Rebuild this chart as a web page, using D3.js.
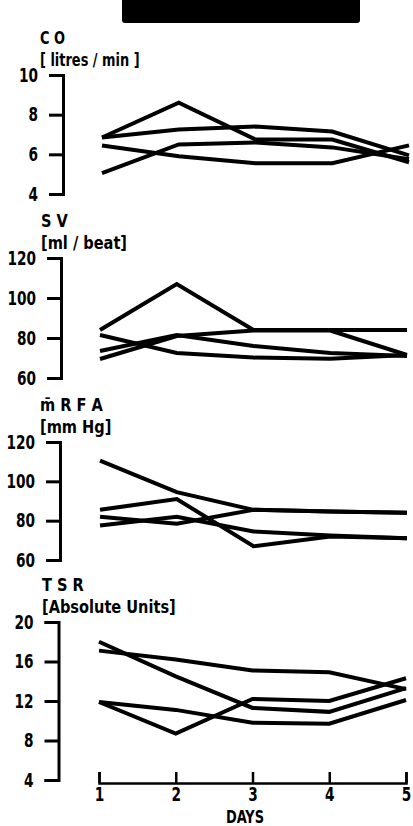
<!DOCTYPE html>
<html>
  <head>
    <meta charset="utf-8" />
    <title>CO, SV, mRFA, TSR over days</title>
    <script src="https://d3js.org/d3.v7.min.js"></script>
    <style>
        body {
            margin: 0;
            background: #fff;
        }
        text {
            font-family: "DejaVu Sans Condensed", "DejaVu Sans", sans-serif;
            font-stretch: condensed;
            font-weight: bold;
            fill: #000;
        }
    </style>
  </head>
  <body>
    <svg id="chart"></svg>

    <script>
        // values, one row per subject
        var days = [1, 2, 3, 4, 5];

        var coTicks = [4, 6, 8, 10];
        var coSeries = [
            [6.85, 8.6, 6.75, 6.75, 5.6],
            [6.85, 7.25, 7.4, 7.15, 5.95],
            [6.45, 5.9, 5.55, 5.55, 6.45],
            [5.05, 6.5, 6.6, 6.35, 5.75]
        ];

        var svTicks = [60, 80, 100, 120];
        var svSeries = [
            [84, 107, 84, 84, 84],
            [69.5, 81, 83.7, 83.7, 71.5],
            [81.5, 72.5, 70.2, 69.6, 71.5],
            [73.5, 81.5, 76, 72.5, 71]
        ];

        var rfaTicks = [60, 80, 100, 120];
        var rfaSeries = [
            [110.5, 94.5, 85.5, 84.7, 84],
            [85.5, 91, 67, 72, 71],
            [82, 78.5, 85.5, 84.7, 84],
            [77.5, 82, 74.5, 72.5, 71]
        ];

        var tsrTicks = [4, 8, 12, 16, 20];
        var tsrSeries = [
            [18, 14.5, 11.3, 10.9, 13.3],
            [17.1, 16.2, 15.1, 14.9, 13.2],
            [11.9, 8.7, 12.2, 12.0, 14.3],
            [11.9, 11.1, 9.8, 9.7, 12.1]
        ];

        var width = 413;
        var height = 826;
        var squeeze = 0.8; // the printed lettering is narrower than any installed font

        var svg = d3.select("#chart")
            .attr("width", width)
            .attr("height", height);

        // blacked-out heading
        svg.append("rect")
            .attr("x", 122)
            .attr("y", -4)
            .attr("width", 238)
            .attr("height", 27)
            .attr("rx", 3)
            .attr("fill", "#000");

        var x = d3.scaleLinear()
            .domain([1, 5])
            .range([99, 406]);

        var panels = [
            {name: "C O", unit: "[ litres / min ]", ticks: coTicks, series: coSeries,
             top: 75, bottom: 194, axisX: 63, dx: 3, titleX: 40, sq: 0.8},
            {name: "S V", unit: "[ml / beat]", ticks: svTicks, series: svSeries,
             top: 258, bottom: 378, axisX: 61, dx: 1, titleX: 41, sq: 0.9},
            {name: "m\u0304 R F A", unit: "[mm Hg]", ticks: rfaTicks, series: rfaSeries,
             top: 442, bottom: 560, axisX: 60, dx: 1, titleX: 40, sq: 0.9},
            {name: "T S R", unit: "[Absolute Units]", ticks: tsrTicks, series: tsrSeries,
             top: 622, bottom: 780, axisX: 58.5, dx: 0, titleX: 42, sq: 0.9}
        ];

        function label(sel, tx, ty, size, str, sq) {
            return sel.append("text")
                .attr("transform", "translate(" + tx + "," + ty + ") scale(" + (sq || squeeze) + ",1)")
                .attr("font-size", size)
                .text(str);
        }

        panels.forEach(function(p) {
            var y = d3.scaleLinear()
                .domain(d3.extent(p.ticks))
                .range([p.bottom, p.top]);

            var g = svg.append("g");

            // titles above the axis
            label(g, p.titleX, p.top - 31, 18, p.name, p.sq);
            label(g, p.titleX, p.top - 9, 18, p.unit, p.sq);

            var yAxis = d3.axisLeft(y)
                .tickValues(p.ticks)
                .tickFormat(d3.format("d"))
                .tickSize(14)
                .tickPadding(11);

            var ag = g.append("g")
                .attr("transform", "translate(" + p.axisX + ",0)")
                .call(yAxis);
            ag.attr("font-family", null).attr("font-size", null);
            ag.selectAll("path, line")
                .attr("stroke", "#000")
                .attr("stroke-width", 3);
            ag.selectAll("text")
                .attr("font-size", 19)
                .attr("x", 0)
                .attr("transform", "translate(-25,0) scale(" + squeeze + ",1)");

            var line = d3.line()
                .x(function(d, i) { return x(days[i]) + p.dx; })
                .y(function(d) { return y(d); });

            g.selectAll(".trace")
                .data(p.series)
                .enter().append("path")
                .attr("class", "trace")
                .attr("d", line)
                .attr("fill", "none")
                .attr("stroke", "#000")
                .attr("stroke-width", 4)
                .attr("stroke-linejoin", "miter");
        });

        // shared day axis at the bottom, ticks pointing up
        var xAxis = d3.axisBottom(x)
            .tickValues(days)
            .tickFormat(d3.format("d"))
            .tickSize(-11)
            .tickPadding(5);

        var xg = svg.append("g")
            .attr("transform", "translate(0,783)")
            .call(xAxis);
        xg.attr("font-family", null).attr("font-size", null);
        xg.selectAll("path, line")
            .attr("stroke", "#000")
            .attr("stroke-width", 2.5);
        xg.selectAll("text")
            .attr("font-size", 19)
            .attr("transform", "scale(" + squeeze + ",1)");

        label(svg, 245, 823, 18, "DAYS")
            .attr("text-anchor", "middle");
    </script>
  </body>
</html>
